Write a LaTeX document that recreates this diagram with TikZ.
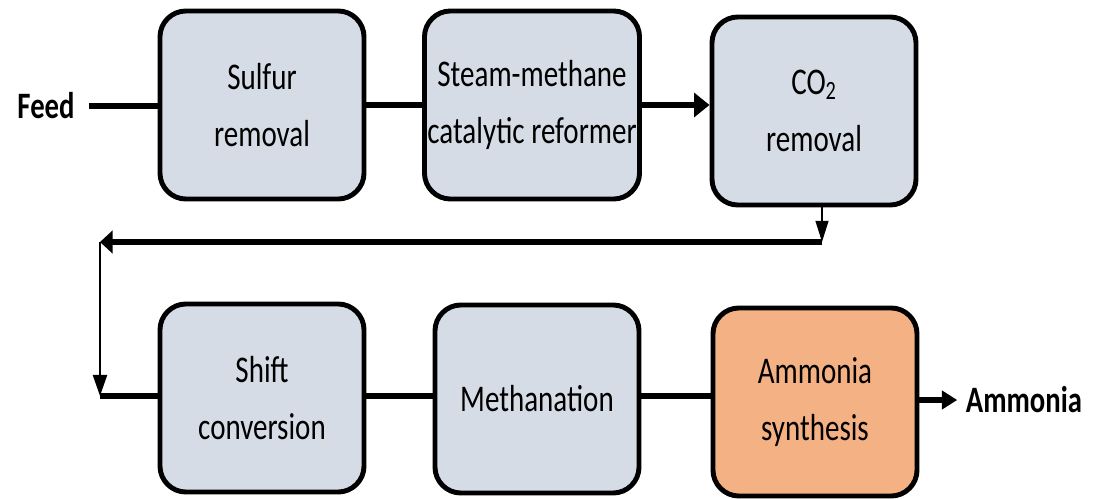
\documentclass[tikz,border=0pt]{standalone}
\usepackage{fontspec}
\setmainfont{Carlito}[FakeStretch=0.77]
\usetikzlibrary{arrows.meta}
\definecolor{boxgray}{HTML}{D6DCE5}
\definecolor{boxorange}{HTML}{F4B183}

\begin{document}
\begin{tikzpicture}[x=0.025cm,y=-0.025cm,
    procbox/.style={draw,line width=3.5pt,rounded corners=0.65cm,fill=boxgray,
      minimum width=5.1cm,minimum height=4.7cm,inner sep=0pt,align=center,
      font=\fontsize{26.8}{40.5}\selectfont},
    tag/.style={inner ysep=0pt,font=\bfseries\fontsize{26.5}{30}\selectfont},
    flow/.style={line width=4.3pt},
    thinflow/.style={line width=1.6pt}]
    \useasboundingbox (0,0) rectangle (1094,499);
    % process units
    \node[procbox] (sulfur) at (262,105) {Sulfur\\removal};
    \node[procbox,minimum width=5.375cm] (steam) at (532,105) {Steam-methane\\catalytic reformer};
    \node[procbox] (co2) at (814,111) {CO\textsubscript{2}\\removal};
    \node[procbox] (shift) at (262,398) {Shift\\conversion};
    \node[procbox] (meth) at (537,399) {Methanation};
    \node[procbox,fill=boxorange] (synth) at (815,402) {Ammonia\\synthesis};
    \node[tag,inner xsep=10pt] (feed) at (46,106) {Feed};
    \node[tag,inner xsep=6pt] (product) at (1024,400) {Ammonia};
    % streams
    \draw[flow] (feed.east) -- (feed.east -| sulfur.west);
    \draw[flow] (sulfur.east) -- (steam.west);
    \draw[flow,-{Triangle[length=11pt,width=17pt]}] (steam.east) -- (steam.east -| co2.west);
    \coordinate (r1) at (822,242);
    \coordinate (r2) at (100,242);
    \coordinate (r3) at (100,396);
    \draw[thinflow,-{Triangle[length=15pt,width=9pt]}] (co2.south -| r1) -- (r1);
    \draw[flow,-{Triangle[length=9pt,width=16pt]}] (r1) -- (r2);
    \draw[thinflow,-{Triangle[length=15pt,width=10pt]}] (r2) -- (r3);
    \draw[flow] (r3) -- (r3 -| shift.west);
    \draw[flow] (shift.east |- r3) -- (r3 -| meth.west);
    \draw[flow] (meth.east |- r3) -- (r3 -| synth.west);
    \draw[flow,-{Triangle[length=11pt,width=13pt]}] (synth.east |- product) -- (product.west);
\end{tikzpicture}
\end{document}
